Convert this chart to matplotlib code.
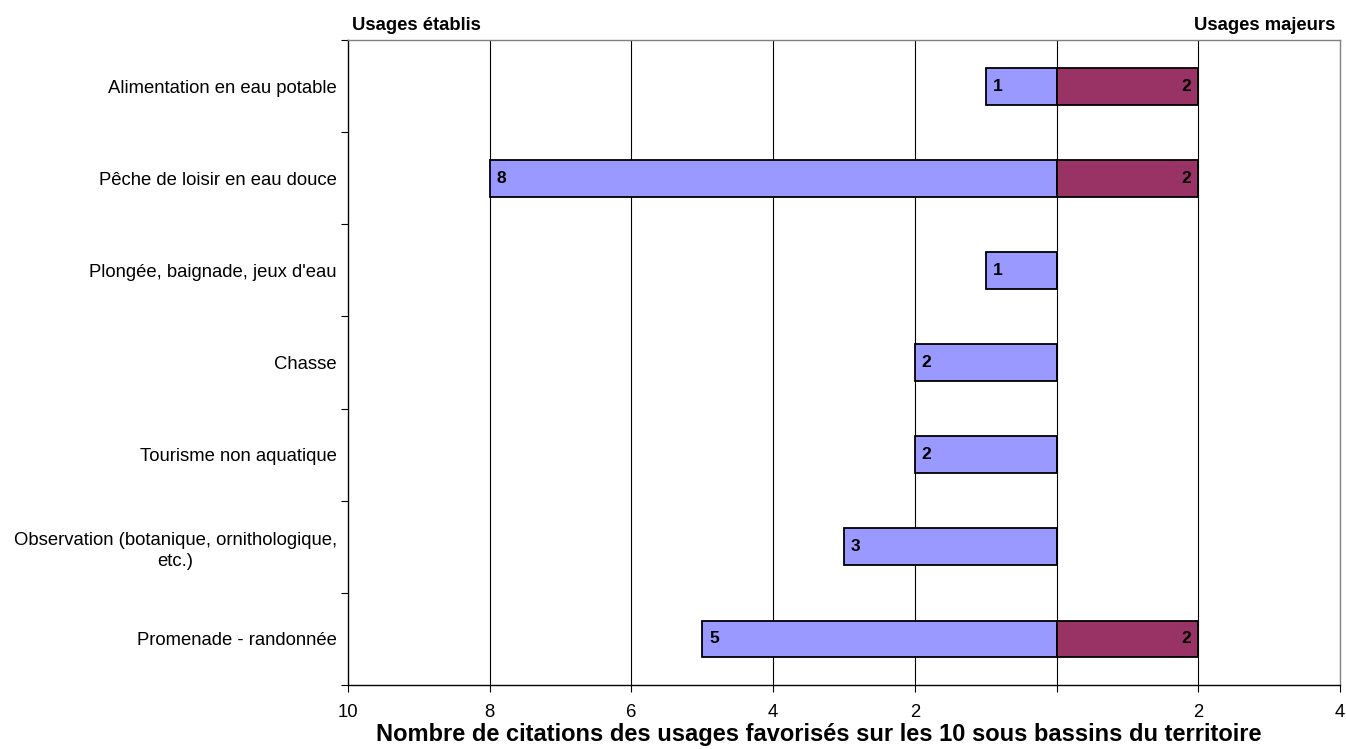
import matplotlib.pyplot as plt
import numpy as np

plt.rcParams['font.family'] = ['Liberation Sans', 'DejaVu Sans']

# Data (top to bottom)
categories = ['Alimentation en eau potable',
              'Pêche de loisir en eau douce',
              "Plongée, baignade, jeux d'eau",
              'Chasse',
              'Tourisme non aquatique',
              'Observation (botanique, ornithologique,\netc.)',
              'Promenade - randonnée']
etablis = [1, 8, 1, 2, 2, 3, 5]
majeurs = [2, 2, 0, 0, 0, 0, 2]
tick_values = [-10, -8, -6, -4, -2, 0, 2, 4]
tick_labels = ['10', '8', '6', '4', '2', '', '2', '4']

fig = plt.figure(figsize=(13.46, 7.49), dpi=100)
ax = fig.add_axes([348 / 1346, 64 / 749, 992 / 1346, 645 / 749])

n = len(categories)
y = np.arange(n)[::-1]  # first category on top

ax.barh(y, [-v for v in etablis], height=0.4, color='#9999FF',
        edgecolor='black', linewidth=1.3, zorder=3)
ax.barh(y, majeurs, height=0.4, color='#993366',
        edgecolor='black', linewidth=1.3, zorder=3)

for yi, v in zip(y, etablis):
    if v:
        ax.annotate(str(v), (-v, yi), xytext=(5, 0), textcoords='offset points',
                    ha='left', va='center', fontsize=12.5, fontweight='bold', zorder=4)
for yi, v in zip(y, majeurs):
    if v:
        ax.annotate(str(v), (v, yi), xytext=(-5, 0), textcoords='offset points',
                    ha='right', va='center', fontsize=12.5, fontweight='bold', zorder=4)

ax.set_xlim(-10, 4)
ax.set_ylim(-0.5, n - 0.5)

# vertical grid lines
for xv in tick_values[1:-1]:
    ax.axvline(xv, color='black', linewidth=0.8, zorder=1)

ax.set_xticks(tick_values)
ax.set_xticklabels(tick_labels, fontsize=13.3)
ax.tick_params(axis='x', direction='out', length=5, width=0.8, pad=9)

ax.set_yticks(y)
ax.set_yticklabels(categories, fontsize=13.3, multialignment='center', linespacing=1.35)
ax.tick_params(axis='y', which='major', length=0, pad=8)
ax.set_yticks(np.arange(-0.5, n, 1), minor=True)
ax.tick_params(axis='y', which='minor', direction='out', length=5, width=0.8)

for side in ['top', 'right']:
    ax.spines[side].set_color('#808080')
    ax.spines[side].set_linewidth(1.0)
for side in ['left', 'bottom']:
    ax.spines[side].set_color('black')
    ax.spines[side].set_linewidth(1.0)

ax.set_xlabel('Nombre de citations des usages favorisés sur les 10 sous bassins du territoire',
              fontsize=17, fontweight='bold', labelpad=0)
ax.xaxis.set_label_coords(0.475, -0.059)
ax.xaxis.label.set_va('top')

fig.text(352 / 1346, 1 - 25 / 749, 'Usages établis', ha='left', va='center',
         fontsize=13.3, fontweight='bold')
fig.text(1335 / 1346, 1 - 25 / 749, 'Usages majeurs', ha='right', va='center',
         fontsize=13.3, fontweight='bold')

fig.savefig('out.png', dpi=100)
